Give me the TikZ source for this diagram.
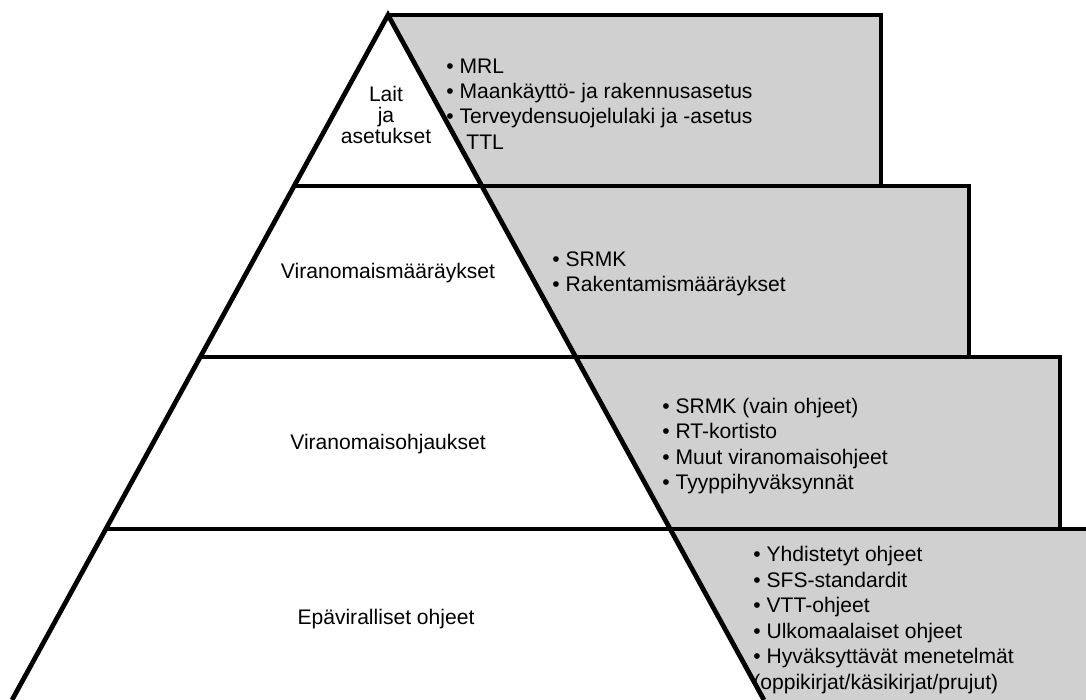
\documentclass[tikz,border=0pt]{standalone}
\usepackage{fontspec}
\setmainfont{Liberation Sans}
\usepackage{xcolor}
\usepackage{tikz}

\definecolor{boxgray}{RGB}{208,208,208}

\begin{document}
\begin{tikzpicture}[
    x=0.02cm, y=-0.02cm,
    tier/.style={fill=boxgray},
    edge/.style={draw=black, line width=2.7pt},
    level/.style={align=center, inner sep=0pt, font={\fontsize{12pt}{12.2pt}\selectfont}},
    items/.style={align=left, anchor=west, inner sep=0pt, font={\fontsize{12pt}{14.5pt}\selectfont}}
  ]
  \useasboundingbox (0,0) rectangle (1086,700);
  \clip (0,0) rectangle (1086,700);

  % pyramid corners
  \coordinate (apex) at (388,15);
  \coordinate (l1) at (294.1,186);
  \coordinate (r1) at (481.9,186);
  \coordinate (l2) at (200.3,357);
  \coordinate (r2) at (575.7,357);
  \coordinate (l3) at (105.9,529);
  \coordinate (r3) at (670.1,529);
  \coordinate (l4) at (12,700);
  \coordinate (r4) at (764,700);

  % gray steps
  \fill[tier] (apex) -- (881,15) -- (881,186) -- (r1) -- cycle;
  \fill[tier] (r1) -- (969,186) -- (969,357) -- (r2) -- cycle;
  \fill[tier] (r2) -- (1060,357) -- (1060,529) -- (r3) -- cycle;
  \fill[tier] (r3) -- (1100,529) -- (1100,700) -- (r4) -- cycle;

  % outlines
  \draw[edge] (l4) -- (apex) -- (r4);
  \draw[edge] (apex) -- (881,15) -- (881,186);
  \draw[edge] (l1) -- (969,186) -- (969,357);
  \draw[edge] (l2) -- (1060,357) -- (1060,529);
  \draw[edge] (l3) -- (1100,529);

  % levels
  \node[level] (laws) at (386,115) {Lait\\ja\\asetukset};
  \node[level] (regs) at (388,273) {Viranomaismääräykset};
  \node[level] (guid) at (388,444) {Viranomaisohjaukset};
  \node[level] (info) at (386,619) {Epäviralliset ohjeet};

  % contents
  \node[items] (lawsitems) at (446,104) {• MRL\\• Maankäyttö- ja rakennusasetus\\• Terveydensuojelulaki ja -asetus\\\hspace*{11.4pt}TTL};
  \node[items] (regsitems) at (552,274) {• SRMK\\• Rakentamismääräykset};
  \node[items] (guiditems) at (662,446) {• SRMK (vain ohjeet)\\• RT-kortisto\\• Muut viranomaisohjeet\\• Tyyppihyväksynnät};
  \node[items] (infoitems) at (753,620) {• Yhdistetyt ohjeet\\• SFS-standardit\\• VTT-ohjeet\\• Ulkomaalaiset ohjeet\\• Hyväksyttävät menetelmät\\(oppikirjat/käsikirjat/prujut)};
\end{tikzpicture}
\end{document}
